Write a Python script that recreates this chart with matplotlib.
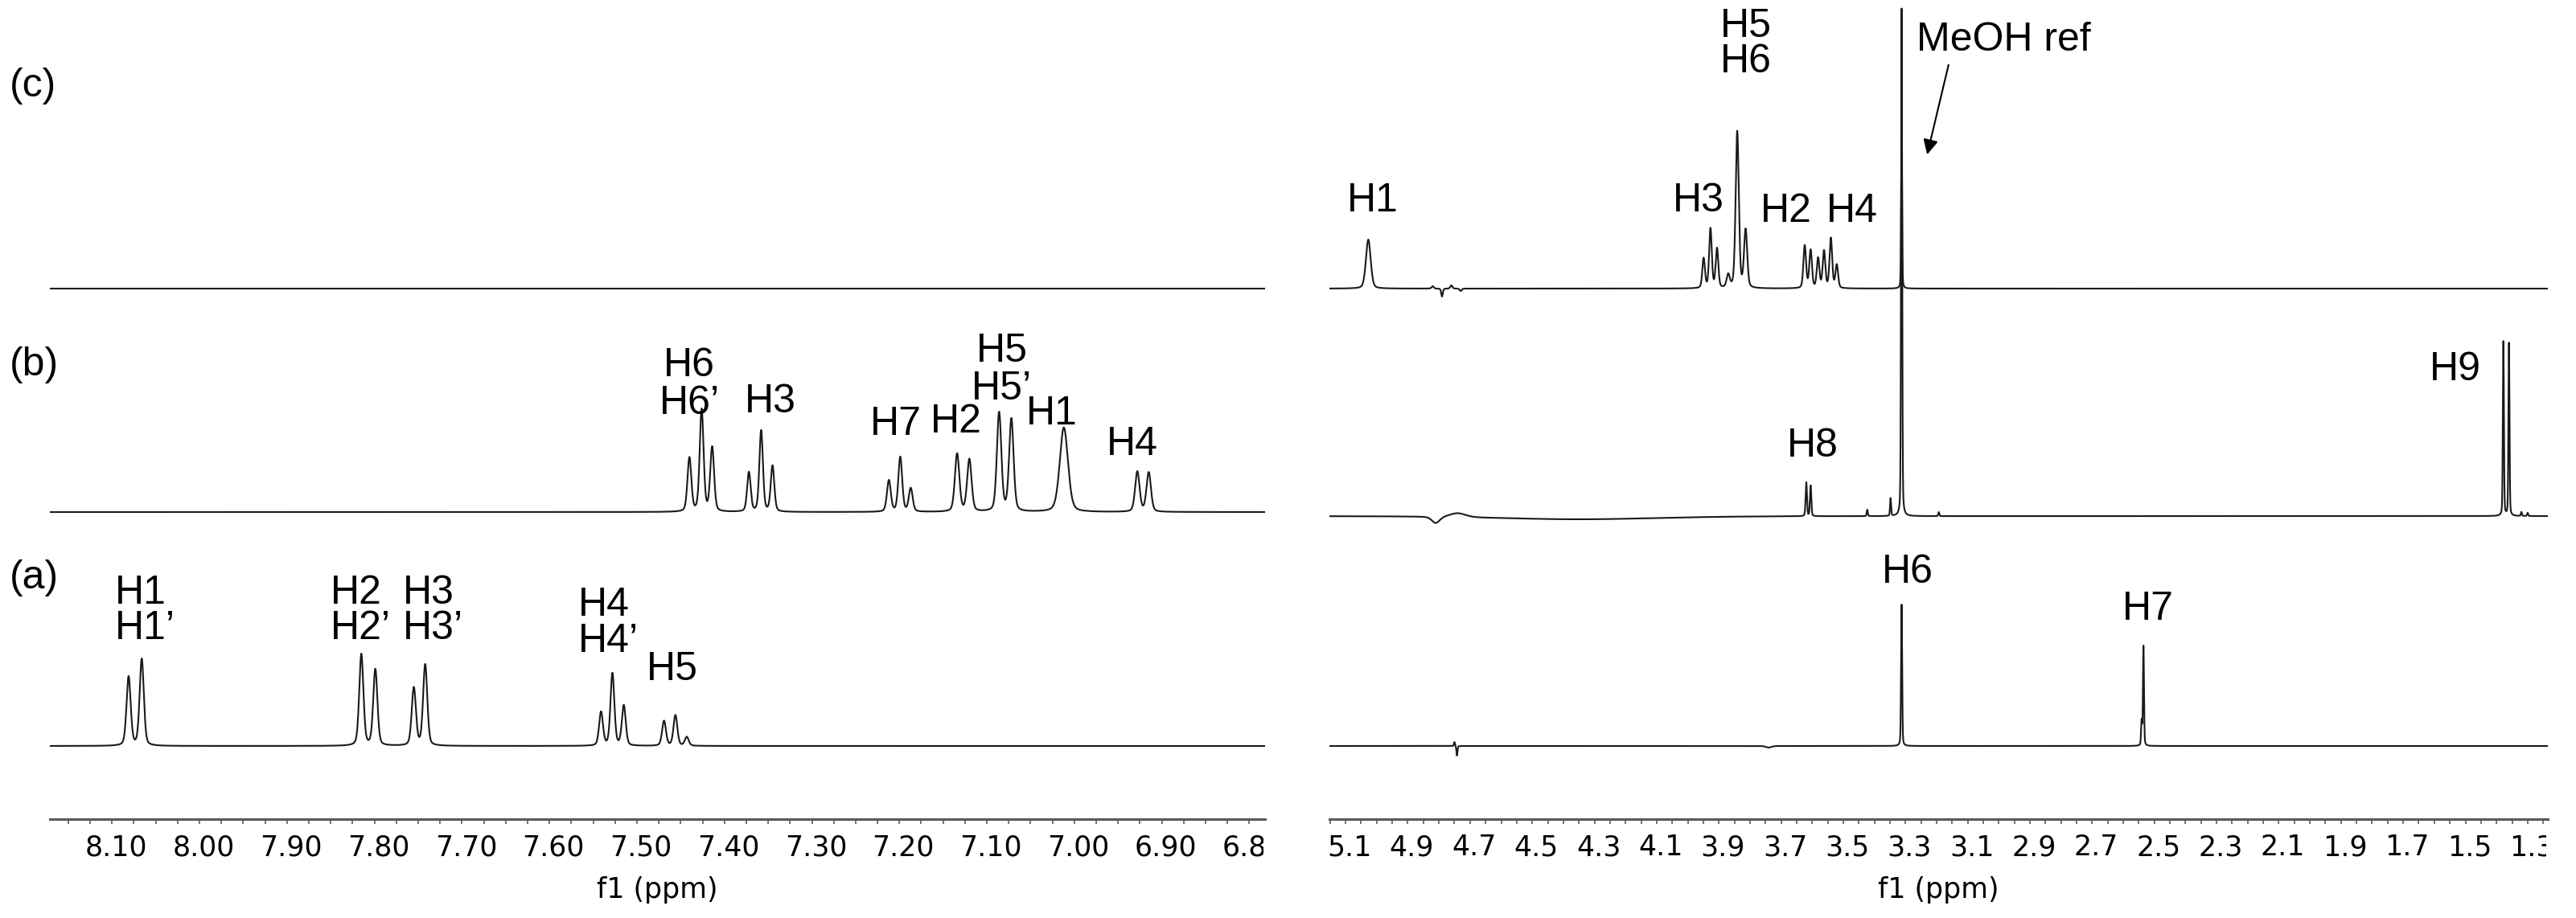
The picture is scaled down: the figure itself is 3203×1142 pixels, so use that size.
import numpy as np
import matplotlib
import matplotlib.pyplot as plt
from matplotlib.ticker import MultipleLocator
from matplotlib.transforms import Bbox, TransformedBbox, ScaledTranslation

matplotlib.use('Agg')

W, H = 3203, 1142
DPI = 100
AXIS_PX = 1019          # axis line, pixels from top
LABEL_PT = 36
TICK_PT = 25
ETA = 0.3               # lorentzian share of the line shape

# left window (aromatic region)
LEFT_TICKS = [8.10, 8.00, 7.90, 7.80, 7.70, 7.60, 7.50, 7.40, 7.30, 7.20, 7.10, 7.00, 6.90, 6.80]
LEFT_TICKLABELS = ['8.10', '8.00', '7.90', '7.80', '7.70', '7.60', '7.50', '7.40', '7.30',
                   '7.20', '7.10', '7.00', '6.90', '6.80']
# right window (aliphatic region)
RIGHT_TICKS = [5.1, 4.9, 4.7, 4.5, 4.3, 4.1, 3.9, 3.7, 3.5, 3.3, 3.1, 2.9, 2.7, 2.5, 2.3,
               2.1, 1.9, 1.7, 1.5, 1.3]
RIGHT_TICKLABELS = ['5.1', '4.9', '4.7', '4.5', '4.3', '4.1', '3.9', '3.7', '3.5', '3.3',
                    '3.1', '2.9', '2.7', '2.5', '2.3', '2.1', '1.9', '1.7', '1.5', '1.3']

# peak tables: shift (ppm), height (px above baseline), half width (ppm)
A_LEFT_PPM = [8.081, 8.066, 7.815, 7.799, 7.755, 7.742, 7.541, 7.528, 7.515, 7.469, 7.456, 7.443]
A_LEFT_H = [86, 108, 114, 95, 72, 101, 42, 90, 50, 31, 38, 11]
A_LEFT_W = [0.0028, 0.0028, 0.0028, 0.0028, 0.0028, 0.0028, 0.0026, 0.0026, 0.0026,
            0.0026, 0.0026, 0.0026]

B_LEFT_PPM = [7.440, 7.426, 7.414, 7.372, 7.358, 7.345, 7.212, 7.199, 7.187, 7.134, 7.120,
              7.086, 7.072, 7.012, 6.928, 6.915]
B_LEFT_H = [67, 127, 80, 49, 101, 57, 39, 68, 29, 72, 65, 123, 115, 105, 50, 49]
B_LEFT_W = [0.0026, 0.0026, 0.0026, 0.0024, 0.0024, 0.0024, 0.0026, 0.0026, 0.0026, 0.003,
            0.003, 0.003, 0.003, 0.0055, 0.003, 0.003]

C_LEFT_PPM = []
C_LEFT_H = []
C_LEFT_W = []

A_RIGHT_PPM = [4.750, 4.742, 3.740, 3.3125, 2.541, 2.535]
A_RIGHT_H = [5, -12, -2, 176, 30, 124]
A_RIGHT_W = [0.002, 0.002, 0.01, 0.002, 0.002, 0.002]

B_RIGHT_PPM = [4.350, 4.810, 4.740, 3.619, 3.605, 3.423, 3.348, 3.3125, 3.193, 1.378, 1.360,
               1.320, 1.300]
B_RIGHT_H = [-4, -8, 5, 42, 38, 8, 22, 632, 5, 217, 215, 5, 4]
B_RIGHT_W = [0.3, 0.015, 0.03, 0.0025, 0.0025, 0.002, 0.002, 0.002, 0.002, 0.002, 0.002,
             0.002, 0.002]

C_RIGHT_PPM = [5.027, 4.820, 4.790, 4.760, 4.730, 3.949, 3.927, 3.906, 3.870, 3.841, 3.814,
               3.624, 3.605, 3.581, 3.562, 3.540, 3.521, 3.3125]
C_RIGHT_H = [61, 3, -10, 4, -3, 37, 74, 49, 16, 195, 72, 53, 47, 37, 46, 62, 29, 200]
C_RIGHT_W = [0.009, 0.004, 0.003, 0.004, 0.004, 0.005, 0.005, 0.005, 0.006, 0.006, 0.006,
             0.005, 0.005, 0.005, 0.005, 0.005, 0.005, 0.0018]

# baselines, pixels from top
BASE_C, BASE_B, BASE_A = 359, 637, 928
BASE_B_RIGHT = 642

# peak labels: text, ppm, cap centre (px from top)
LEFT_LABELS_A = [('H1', 8.097, 733), ('H1\u2019', 8.097, 777), ('H2', 7.850, 733),
                 ('H2\u2019', 7.850, 777), ('H3', 7.768, 733), ('H3\u2019', 7.768, 777),
                 ('H4', 7.567, 748), ('H4\u2019', 7.567, 793), ('H5', 7.489, 828)]
LEFT_LABELS_B = [('H6', 7.440, 450), ('H6\u2019', 7.440, 497), ('H3', 7.347, 495),
                 ('H7', 7.204, 523), ('H2', 7.135, 520), ('H5', 7.083, 432),
                 ('H5\u2019', 7.083, 479), ('H1', 7.026, 510), ('H4', 6.934, 548)]
RIGHT_LABELS = [('H1', 5.013, 245), ('H3', 3.966, 245), ('H5', 3.813, 28), ('H6', 3.813, 72),
                ('H2', 3.683, 258), ('H4', 3.471, 258), ('H8', 3.598, 550), ('H9', 1.533, 455),
                ('H6', 3.293, 707), ('H7', 2.521, 753)]
PANEL_LABELS = [('(c)', 107), ('(b)', 454), ('(a)', 719)]

EM = LABEL_PT * DPI / 72


def spectrum(x, ppm, hgt, wid):
    y = np.zeros_like(x)
    for p, h, w in zip(ppm, hgt, wid):
        d = (x - p) / w
        y += h * ((1 - ETA) * np.exp(-np.log(2) * d ** 2) + ETA / (1 + d ** 2))
    return y


def make_axes(fig, x0, x1, xlim, ticks, ticklabels, minor):
    ax = fig.add_axes([x0 / W, (H - AXIS_PX) / H, (x1 - x0) / W, AXIS_PX / H])
    ax.patch.set_alpha(0)
    ax.set_xlim(*xlim)
    ax.set_ylim(0, AXIS_PX)
    for s in ['top', 'left', 'right']:
        ax.spines[s].set_visible(False)
    ax.spines['bottom'].set_color('#5a5a5a')
    ax.spines['bottom'].set_linewidth(2.2)
    ax.set_yticks([])
    ax.set_xticks(ticks)
    ax.set_xticklabels(ticklabels)
    ax.xaxis.set_minor_locator(MultipleLocator(minor))
    ax.tick_params(axis='x', which='both', direction='out', length=4.3, width=1.2,
                   color='#5a5a5a', labelsize=TICK_PT, pad=9)
    ax.set_xlabel('f1 (ppm)', fontsize=TICK_PT, labelpad=13)
    # labels sit a few pixels right of their ticks and are cut at the window edge
    clip = TransformedBbox(Bbox([[x0 / W, 0], [(x1 - 2) / W, 1]]), fig.transFigure)
    shift = ScaledTranslation(5 / DPI, 0, fig.dpi_scale_trans)
    for lab in ax.get_xticklabels():
        lab.set_transform(lab.get_transform() + shift)
        lab.set_clip_box(clip)
        lab.set_clip_on(True)
    return ax


def put(ax, txt, ppm, yc, ha='center'):
    ax.text(ppm, AXIS_PX - (yc + 0.358 * EM), txt, ha=ha, va='baseline',
            fontsize=LABEL_PT, family='Liberation Sans', color='black')


fig = plt.figure(figsize=(W / DPI, H / DPI), dpi=DPI)

ax_l = make_axes(fig, 62, 1573, (8.171, 6.782), LEFT_TICKS, LEFT_TICKLABELS, 0.025)
ax_r = make_axes(fig, 1653, 3168, (5.152, 1.235), RIGHT_TICKS, RIGHT_TICKLABELS, 0.05)

xl = np.linspace(8.171, 6.782, 8000)
xr = np.linspace(5.152, 1.235, 24000)

line = dict(color='#1a1a1a', lw=1.5)
ax_l.plot(xl, AXIS_PX - BASE_C + spectrum(xl, C_LEFT_PPM, C_LEFT_H, C_LEFT_W), **line)
ax_l.plot(xl, AXIS_PX - BASE_B + spectrum(xl, B_LEFT_PPM, B_LEFT_H, B_LEFT_W), **line)
ax_l.plot(xl, AXIS_PX - BASE_A + spectrum(xl, A_LEFT_PPM, A_LEFT_H, A_LEFT_W), **line)

ax_r.plot(xr, AXIS_PX - BASE_C + spectrum(xr, C_RIGHT_PPM, C_RIGHT_H, C_RIGHT_W), **line)
ax_r.plot(xr, AXIS_PX - BASE_B_RIGHT + spectrum(xr, B_RIGHT_PPM, B_RIGHT_H, B_RIGHT_W), **line)
ax_r.plot(xr, AXIS_PX - BASE_A + spectrum(xr, A_RIGHT_PPM, A_RIGHT_H, A_RIGHT_W), **line)

for txt, ppm, yc in LEFT_LABELS_A:
    put(ax_l, txt, ppm, yc, ha='left')
for txt, ppm, yc in LEFT_LABELS_B:
    put(ax_l, txt, ppm, yc)
for txt, ppm, yc in RIGHT_LABELS:
    put(ax_r, txt, ppm, yc)

put(ax_r, 'MeOH ref', 3.265, 45, ha='left')
ax_r.annotate('', xy=(3.232, AXIS_PX - 195), xytext=(3.16, AXIS_PX - 78),
              arrowprops=dict(arrowstyle='-|>', color='black', lw=1.5, mutation_scale=28))

for txt, yc in PANEL_LABELS:
    fig.text(12 / W, 1 - (yc + 0.26 * EM) / H, txt, ha='left', va='baseline',
             fontsize=LABEL_PT, family='Liberation Sans')

fig.savefig('out.png', dpi=DPI)
